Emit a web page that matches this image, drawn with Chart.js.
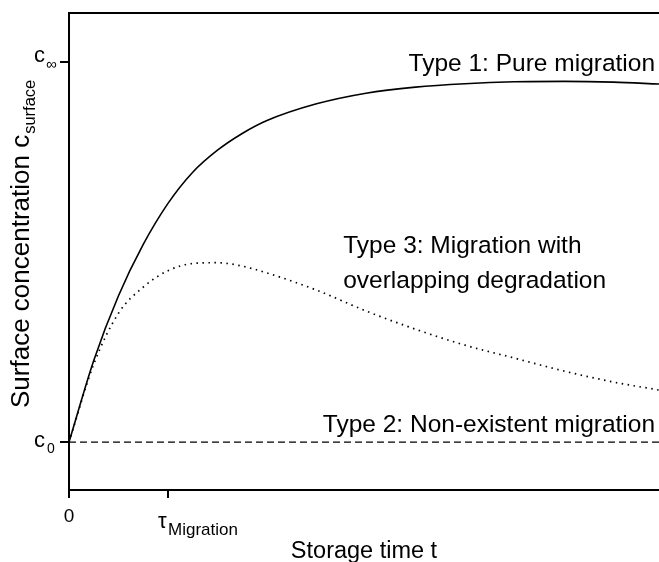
<!DOCTYPE html>
<html>
<head>
<meta charset="utf-8">
<script src="https://cdn.jsdelivr.net/npm/chart.js@4/dist/chart.umd.min.js"></script>
<style>
  html, body { margin: 0; padding: 0; background: #fff; }
  #wrap { width: 659px; height: 562px; position: relative; }
</style>
</head>
<body>
<div id="wrap"><canvas id="chart"></canvas></div>
<script>
// Storage time in units of the migration time constant
const timeSteps = [0, 0.25, 0.5, 0.75, 1, 1.25, 1.5, 1.75, 2, 2.5, 3, 3.5, 4, 4.5, 5, 5.5, 5.96];
// Normalised surface concentration: 0 = c0, 1 = c_inf
const pureMigration = [0, 0.215, 0.385, 0.52, 0.628, 0.71, 0.768, 0.812, 0.846, 0.89, 0.918, 0.934, 0.943, 0.948, 0.949, 0.947, 0.942];
const migrationWithDegradation = [0, 0.205, 0.339, 0.408, 0.451, 0.470, 0.472, 0.463, 0.445, 0.400, 0.345, 0.297, 0.255, 0.221, 0.187, 0.158, 0.137];
const noMigration = [0, 0, 0, 0, 0, 0, 0, 0, 0, 0, 0, 0, 0, 0, 0, 0, 0];
const xTickValues = [0, 1];
const yTickValues = [0, 1];

const FONT = '"Liberation Sans", Arial, sans-serif';

function points(ys) { return timeSteps.map((t, i) => ({ x: t, y: ys[i] })); }

// Axis labels, tick labels with subscripts, curve captions and the top frame line
const annotate = {
  id: 'annotate',
  afterDraw(chart) {
    const { ctx, chartArea: a, scales: { x, y } } = chart;
    ctx.save();
    ctx.fillStyle = '#000';
    ctx.strokeStyle = '#000';

    // top frame line
    ctx.lineWidth = 2;
    ctx.beginPath();
    ctx.moveTo(a.left - 1, a.top);
    ctx.lineTo(a.right, a.top);
    ctx.stroke();

    ctx.textBaseline = 'alphabetic';

    // y tick labels
    const yInf = y.getPixelForValue(1);
    const y0 = y.getPixelForValue(0);
    ctx.textAlign = 'left';
    ctx.font = '22px ' + FONT;
    ctx.fillText('c', 34, yInf);
    ctx.font = '15px ' + FONT;
    ctx.fillText('\u221E', 46, yInf + 7);
    ctx.font = '22px ' + FONT;
    ctx.fillText('c', 34, y0 + 5);
    ctx.font = '14px ' + FONT;
    ctx.fillText('0', 47, y0 + 11);

    // x tick labels
    const xZero = x.getPixelForValue(0);
    const xTau = x.getPixelForValue(1);
    ctx.textAlign = 'center';
    ctx.font = '19px ' + FONT;
    ctx.fillText('0', xZero, 522);
    ctx.textAlign = 'left';
    ctx.font = '22px ' + FONT;
    ctx.fillText('\u03C4', xTau - 10, 528);
    ctx.font = '17px ' + FONT;
    ctx.fillText('Migration', xTau, 535);

    // x axis title
    ctx.textAlign = 'center';
    ctx.font = '23.5px ' + FONT;
    ctx.fillText('Storage time t', (a.left + a.right) / 2, 558);

    // y axis title (rotated, with subscript)
    ctx.save();
    ctx.translate(29, 408);
    ctx.rotate(-Math.PI / 2);
    ctx.textAlign = 'left';
    ctx.font = '26px ' + FONT;
    const main = 'Surface concentration c';
    ctx.fillText(main, 0, 0);
    const w = ctx.measureText(main).width;
    ctx.font = '16.5px ' + FONT;
    ctx.fillText('surface', w + 1, 6);
    ctx.restore();

    // curve captions
    ctx.font = '24.5px ' + FONT;
    ctx.textBaseline = 'middle';
    ctx.textAlign = 'right';
    ctx.fillText('Type 1: Pure migration', x.getPixelForValue(5.92), y.getPixelForValue(0.995));
    ctx.fillText('Type 2: Non-existent migration', x.getPixelForValue(5.92), y.getPixelForValue(0.045));
    ctx.textAlign = 'left';
    ctx.fillText('Type 3: Migration with', x.getPixelForValue(2.77), y.getPixelForValue(0.516));
    ctx.fillText('overlapping degradation', x.getPixelForValue(2.77), y.getPixelForValue(0.424));

    ctx.restore();
  }
};

new Chart(document.getElementById('chart'), {
  type: 'line',
  data: {
    datasets: [
      {
        label: 'Type 1: Pure migration',
        data: points(pureMigration),
        borderColor: '#000',
        borderWidth: 1.6,
        pointRadius: 0,
        cubicInterpolationMode: 'monotone',
        fill: false
      },
      {
        label: 'Type 3: Migration with overlapping degradation',
        data: points(migrationWithDegradation),
        borderColor: '#000',
        borderWidth: 1.7,
        borderDash: [1.5, 4.5],
        pointRadius: 0,
        cubicInterpolationMode: 'monotone',
        fill: false
      },
      {
        label: 'Type 2: Non-existent migration',
        data: points(noMigration),
        borderColor: '#000',
        borderWidth: 1.4,
        borderDash: [7, 4],
        pointRadius: 0,
        fill: false
      }
    ]
  },
  options: {
    responsive: true,
    maintainAspectRatio: false,
    animation: false,
    layout: { padding: { top: 13, right: 0, left: 0, bottom: 0 } },
    plugins: { legend: { display: false }, tooltip: { enabled: false } },
    scales: {
      x: {
        type: 'linear',
        min: 0,
        max: 5.96,
        afterBuildTicks: s => { s.ticks = xTickValues.map(v => ({ value: v })); },
        afterFit: s => { s.height = 72; },
        ticks: { display: false },
        grid: { drawOnChartArea: false, drawTicks: true, tickLength: 8, color: '#000', lineWidth: 2 },
        border: { display: true, color: '#000', width: 2 }
      },
      y: {
        type: 'linear',
        min: -0.126,
        max: 1.129,
        afterBuildTicks: s => { s.ticks = yTickValues.map(v => ({ value: v })); },
        afterFit: s => { s.width = 69; },
        ticks: { display: false },
        grid: { drawOnChartArea: false, drawTicks: true, tickLength: 9, color: '#000', lineWidth: 2 },
        border: { display: true, color: '#000', width: 2 }
      }
    }
  },
  plugins: [annotate]
});
</script>
</body>
</html>
